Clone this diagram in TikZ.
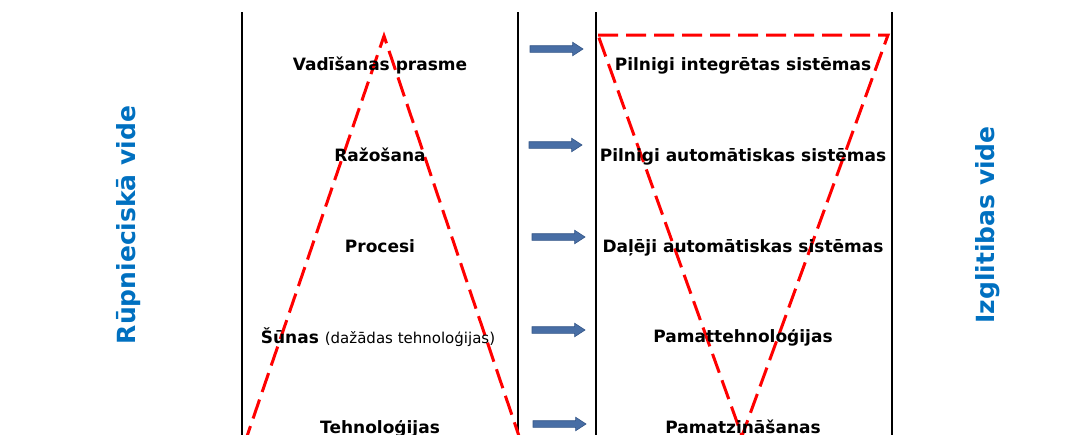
\documentclass[tikz,border=0pt]{standalone}
\usepackage{fontspec}
\setmainfont{DejaVu Sans}
\usetikzlibrary{shapes.arrows}
\definecolor{redline}{RGB}{255,0,0}
\definecolor{videblue}{RGB}{0,112,192}
\definecolor{arrfill}{RGB}{72,110,165}
\definecolor{arrdraw}{RGB}{52,86,136}

\begin{document}
\begin{tikzpicture}[x=1pt, y=-1pt,
    level/.style={font=\fontsize{17}{20}\selectfont\bfseries, anchor=base, inner sep=0pt},
    side/.style={font=\fontsize{25}{30}\selectfont\bfseries, text=videblue, rotate=90, inner sep=0pt},
    pipe/.style={single arrow, fill=arrfill, draw=arrdraw, line width=0.6pt,
                 minimum height=53pt, single arrow head extend=3.5pt, single arrow tip angle=66,
                 inner xsep=0pt, inner ysep=3pt},
    wall/.style={line width=1.5pt},
    tri/.style={draw=redline, line width=3pt, dash pattern=on 20pt off 8pt}]
        \useasboundingbox (0,0) rectangle (1073,434);

        \draw [wall]  (242,12) -- (242,440);                          %
        \draw [wall]  (518,12) -- (518,440);                          %
        \draw [wall]  (596,12) -- (596,440);                          %
        \draw [wall]  (892,12) -- (892,440);                          %

        \draw [tri]   (244,445) -- (384,36) -- (522,445);             % pyramid
        \draw [tri]   (598,35) -- (888,35) -- (742,436) -- cycle;     % funnel

        \node [side]  (rup) at (129,225) {Rūpnieciskā vide};          %
        \node [side]  (izg) at (988,225) {Izglitibas vide};           %

        \node [level] (vad)  at (380,70)  {Vadīšanas prasme};         %
        \node [level] (raz)  at (380,161) {Ražošana};                 %
        \node [level] (proc) at (380,252) {Procesi};                  %
        \node [level] (sun)  at (378,343) {Šūnas {\mdseries\fontsize{15}{18}\selectfont(dažādas tehnoloģijas)}};
        \node [level] (teh)  at (380,433) {Tehnoloģijas};             %

        \node [pipe]  (a1) at (554,49)  {};                           %
        \node [pipe]  (a2) at (553,145) {};                           %
        \node [pipe]  (a3) at (556,237) {};                           %
        \node [pipe]  (a4) at (556,330) {};                           %
        \node [pipe]  (a5) at (557,424) {};                           %

        \node [level] (pis) at (743,70)  {Pilnigi integrētas sistēmas};      %
        \node [level] (pas) at (743,161) {Pilnigi automātiskas sistēmas};    %
        \node [level] (das) at (743,252) {Daļēji automātiskas sistēmas};     %
        \node [level] (pat) at (743,342) {Pamattehnoloģijas};                %
        \node [level] (paz) at (743,433) {Pamatzināšanas};                   %
      \end{tikzpicture}
\end{document}
